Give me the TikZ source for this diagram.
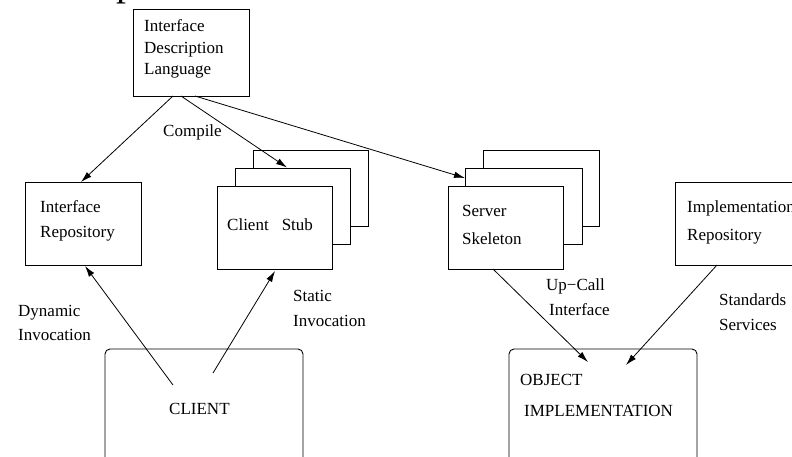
\documentclass[tikz,border=0pt]{standalone}
\usepackage{fontspec}
\setmainfont{Liberation Serif}
\usetikzlibrary{arrows.meta}
\begin{document}
\begin{tikzpicture}[x=1pt,y=-1pt,
  box/.style={draw=black, line width=0.9pt, fill=white, inner sep=0pt},
  rbox/.style={box, rounded corners=5pt},
  txt/.style={anchor=base west, inner sep=0pt, font=\fontsize{17}{20}\selectfont},
  conn/.style={line width=0.8pt, -{Latex[length=11pt,width=6.5pt]}}]
\useasboundingbox (0,0) rectangle (792,456);
\fill[white] (0,0) rectangle (792,456);
% clipped fragment of large letter at top
\node[anchor=base west, inner sep=0pt, font=\fontsize{40}{40}\selectfont] (frag) at (116,-4.7) {p};
% boxes
\node[box, minimum width=116pt, minimum height=87pt] (idl) at (191,52.5) {};
\node[box, minimum width=116pt, minimum height=83pt] (irep) at (83,223.5) {};
\node[box, minimum width=115pt, minimum height=76pt] (stubC) at (310.5,188) {};
\node[box, minimum width=115pt, minimum height=76pt] (stubB) at (292.5,206) {};
\node[box, minimum width=115pt, minimum height=83pt] (stub) at (274.5,227.5) {};
\node[box, minimum width=116pt, minimum height=76pt] (skelC) at (541,188) {};
\node[box, minimum width=117pt, minimum height=76pt] (skelB) at (523.5,206) {};
\node[box, minimum width=115pt, minimum height=83pt] (skel) at (505.5,227.5) {};
\node[box, minimum width=130pt, minimum height=83pt] (impl) at (740,223.5) {};
\node[rbox, minimum width=198pt, minimum height=121pt] (client) at (204,409.5) {};
\node[rbox, minimum width=188pt, minimum height=121pt] (obj) at (603,409.5) {};
% texts
\node[txt] (t1) at (144,31.5) {Interface};
\node[txt] (t2) at (144,53) {Description};
\node[txt] (t3) at (144,74) {Language};
\node[txt] (t4) at (163,136) {Compile};
\node[txt] (t5) at (40,212) {Interface};
\node[txt] (t6) at (40,237.5) {Repository};
\node[txt] (t7) at (227,230) {Client\hspace{13pt}Stub};
\node[txt] (t8) at (462,216) {Server};
\node[txt] (t9) at (462,244) {Skeleton};
\node[txt] (t10) at (687,212) {Implementation};
\node[txt] (t11) at (687,240) {Repository};
\node[txt] (t12) at (18,316.5) {Dynamic};
\node[txt] (t13) at (18,340.5) {Invocation};
\node[txt] (t14) at (293,301.5) {Static};
\node[txt] (t15) at (293,326) {Invocation};
\node[txt] (t16) at (546,290.5) {Up−Call};
\node[txt] (t17) at (549,315.5) {Interface};
\node[txt] (t18) at (719,305) {Standards};
\node[txt] (t19) at (719,330) {Services};
\node[txt] (t20) at (169,414) {CLIENT};
\node[txt] (t21) at (520,385) {OBJECT};
\node[txt] (t22) at (524,416.5) {IMPLEMENTATION};
% connector end points
\coordinate (a1) at (173,96);
\coordinate (a2) at (81,182);
\coordinate (b1) at (181,96);
\coordinate (b2) at (287,167.5);
\coordinate (c1) at (195,96);
\coordinate (c2) at (465,178);
\coordinate (d1) at (173,385);
\coordinate (d2) at (85,266);
\coordinate (e1) at (213,373);
\coordinate (e2) at (275,271);
\coordinate (f1) at (493,269);
\coordinate (f2) at (588,362);
\coordinate (g1) at (717,265);
\coordinate (g2) at (626,365);
\draw[conn] (a1) -- (a2);
\draw[conn] (b1) -- (b2);
\draw[conn] (c1) -- (c2);
\draw[conn] (d1) -- (d2);
\draw[conn] (e1) -- (e2);
\draw[conn] (f1) -- (f2);
\draw[conn] (g1) -- (g2);
\end{tikzpicture}
\end{document}
